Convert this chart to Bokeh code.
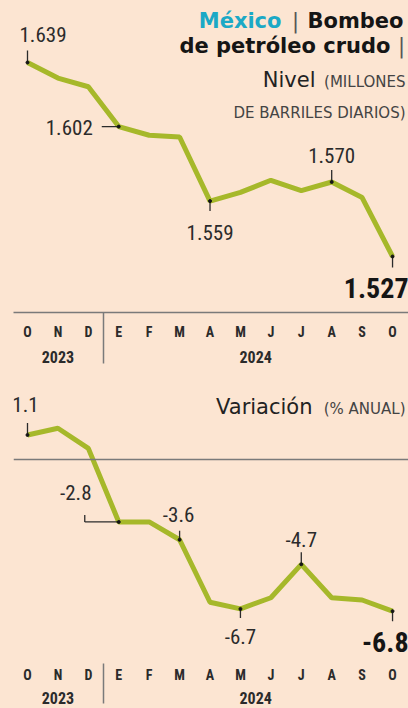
from bokeh.plotting import figure
from bokeh.layouts import column
from bokeh.models import Range1d, LinearAxis, FixedTicker, Span
from bokeh.core.properties import value
from bokeh.embed import file_html
from bokeh.resources import INLINE

# ---------------- data ----------------
months = ["O", "N", "D", "E", "F", "M", "A", "M", "J", "J", "A", "S", "O"]
years = ["2023", "2024"]
year_centers = [1, 7.5]
year_break = 2.5
nivel = [1.639, 1.630, 1.625, 1.602, 1.597, 1.596, 1.559, 1.564, 1.571, 1.565, 1.570, 1.561, 1.527]
variacion = [1.1, 1.4, 0.5, -2.8, -2.8, -3.6, -6.4, -6.7, -6.2, -4.7, -6.2, -6.3, -6.8]
top_labels = [0, 3, 6, 10, 12]
bot_labels = [0, 3, 5, 7, 9, 12]

# ---------------- styles ----------------
BG = "#FCE5D2"
LINE = "#A6B82A"
INK = "#2b2b2b"
DARK = "#151515"
GRAY = "#7a7a7a"
TEAL = "#1BA9C6"
NUM_FONT = "Roboto Condensed, DejaVu Sans Condensed, sans-serif"
TITLE_FONT = "DejaVu Sans"

# geometry (pixels; page has no margin with Bokeh's template)
FRAME_W = 395
FRAME_LEFT = 13
SX = 30.42
XR0 = -(27 - FRAME_LEFT) / SX
xr = Range1d(XR0, XR0 + FRAME_W / SX)

TOP_FRAME_TOP = 0
TOP_FRAME_H = 312
SYT = 1732.0
YT1 = 1.639 + (62 - TOP_FRAME_TOP) / SYT
yt = Range1d(YT1 - TOP_FRAME_H / SYT, YT1)

BOT_FRAME_TOP = 363
BOT_FRAME_H = 298
SYB = 22.3
YB1 = (457 - BOT_FRAME_TOP) / SYB
yb = Range1d(YB1 - BOT_FRAME_H / SYB, YB1)


def px_x(px):
    return XR0 + (px - FRAME_LEFT) / SX


def px_yt(py):
    return YT1 - (py - TOP_FRAME_TOP) / SYT


def px_yb(py):
    return YB1 - (py - BOT_FRAME_TOP) / SYB


def make_fig(yr, fh):
    p = figure(frame_width=FRAME_W, frame_height=fh, x_range=xr, y_range=yr,
               x_axis_type=None, y_axis_type=None, toolbar_location=None,
               output_backend="svg", min_border_left=FRAME_LEFT, min_border_right=0,
               min_border_top=0, min_border_bottom=0)
    p.background_fill_color = BG
    p.border_fill_color = BG
    p.outline_line_color = None
    return p


def add_axes(p, line_visible, m_gap, y_standoff, sep_len):
    ax = LinearAxis(
        ticker=FixedTicker(ticks=list(range(len(months))), minor_ticks=[year_break]),
        major_label_overrides={i: m for i, m in enumerate(months)},
        axis_line_color=GRAY if line_visible else None, axis_line_width=1.5,
        major_tick_line_color=None, major_tick_in=0, major_tick_out=0,
        minor_tick_line_color=GRAY, minor_tick_line_width=1.5,
        minor_tick_in=0, minor_tick_out=sep_len,
        major_label_standoff=m_gap - sep_len,
        major_label_text_font=NUM_FONT, major_label_text_font_style="bold",
        major_label_text_font_size="14px", major_label_text_color=INK)
    p.add_layout(ax, "below")
    ay = LinearAxis(
        ticker=FixedTicker(ticks=year_centers),
        major_label_overrides={c: y for c, y in zip(year_centers, years)},
        axis_line_color=None, major_tick_line_color=None,
        major_tick_in=0, major_tick_out=0, minor_tick_line_color=None,
        major_label_standoff=y_standoff,
        major_label_text_font=NUM_FONT, major_label_text_font_style="bold",
        major_label_text_font_size="16px", major_label_text_color=INK)
    p.add_layout(ay, "below")


def add_text(p, x, y, txt, size, color, style="normal", align="right", font=TITLE_FONT):
    p.text(x=[x], y=[y], text=[txt], text_font=value(font), text_font_size=size,
           text_font_style=style, text_color=color, text_align=align,
           text_baseline="middle")


xs = list(range(len(months)))

# ================= top chart =================
p1 = make_fig(yt, TOP_FRAME_H)
add_axes(p1, True, 11, 8, 51)
p1.line(xs, nivel, line_color=LINE, line_width=5)

top_lead = {0: (0, -12), 3: (-17, 0), 6: (0, 10), 10: (0, -12), 12: (0, 11)}
top_txt = {0: (-8, -28, "left"), 3: (-26, 1, "right"), 6: (0, 31, "center"),
           10: (0, -27, "center"), 12: (16, 32, "right")}
for i in top_labels:
    v = nivel[i]
    ldx, ldy = top_lead[i]
    p1.segment(x0=[i], y0=[v], x1=[i + ldx / SX], y1=[v - ldy / SYT],
               line_color=INK, line_width=1.3)
    ox, oy, al = top_txt[i]
    last = i == len(nivel) - 1
    p1.text(x=[i], y=[v], text=[f"{v:.3f}"], text_font=value(NUM_FONT),
            text_font_size="28px" if last else "21px",
            text_font_style="bold" if last else "normal",
            text_color=DARK if last else INK, text_align=al,
            text_baseline="middle", x_offset=ox, y_offset=oy)
p1.scatter([i for i in top_labels], [nivel[i] for i in top_labels], size=3, color=DARK)

# title
add_text(p1, px_x(403), px_yt(20), "Bombeo", "21px", DARK, "bold")
add_text(p1, px_x(295), px_yt(20), "|", "21px", "#555555", "normal", "center")
add_text(p1, px_x(281), px_yt(20), "México", "21px", TEAL, "bold")
add_text(p1, px_x(390), px_yt(45), "de petróleo crudo", "21px", DARK, "bold")
add_text(p1, px_x(401), px_yt(45), "|", "21px", "#555555", "normal", "center")
add_text(p1, px_x(315), px_yt(79), "Nivel", "21px", "#222222")
add_text(p1, px_x(405), px_yt(81), "(MILLONES", "15px", "#444444")
add_text(p1, px_x(405), px_yt(112), "DE BARRILES DIARIOS)", "15px", "#444444")

# ================= bottom chart =================
p2 = make_fig(yb, BOT_FRAME_H)
add_axes(p2, False, 3, 6, 40)
p2.add_layout(Span(location=0, dimension="width", line_color=GRAY, line_width=1.5))
p2.line(xs, variacion, line_color=LINE, line_width=5)

bot_txt = {0: (-2, -30), 3: (-43, -29), 5: (-1, -25), 7: (0, 28), 9: (0, -25), 12: (16, 31)}
bot_lead = {0: -12, 5: -9, 7: 9, 9: -12, 12: 10}
for i in bot_labels:
    v = variacion[i]
    if i == 3:
        xl = i - 34 / SX
        p2.segment(x0=[i, xl], y0=[v, v], x1=[xl, xl], y1=[v, v + 7 / SYB],
                   line_color=INK, line_width=1.3)
    else:
        p2.segment(x0=[i], y0=[v], x1=[i], y1=[v - bot_lead[i] / SYB],
                   line_color=INK, line_width=1.3)
    ox, oy = bot_txt[i]
    last = i == len(variacion) - 1
    p2.text(x=[i], y=[v], text=[f"{v:.1f}"], text_font=value(NUM_FONT),
            text_font_size="28px" if last else "21px",
            text_font_style="bold" if last else "normal",
            text_color=DARK if last else INK,
            text_align="right" if last else "center",
            text_baseline="middle", x_offset=ox, y_offset=oy)
p2.scatter([i for i in bot_labels], [variacion[i] for i in bot_labels], size=3, color=DARK)

add_text(p2, px_x(312), px_yb(404), "Variación", "21px", "#222222")
add_text(p2, px_x(405), px_yb(406), "(% ANUAL)", "15px", "#444444")

layout = column(p1, p2, spacing=0)
html = file_html(layout, INLINE)
html = html.replace("</head>", "<style>body{background:#FCE5D2;}</style></head>", 1)
open("out.html", "w").write(html)
